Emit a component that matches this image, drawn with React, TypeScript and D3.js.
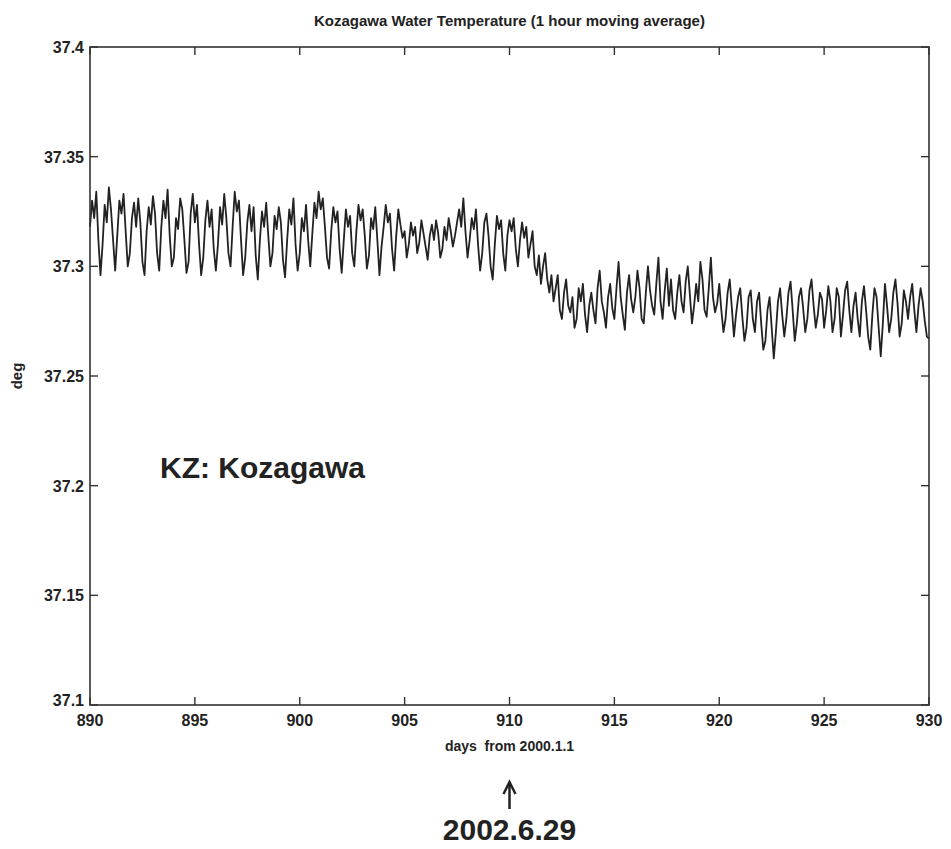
import React, { useEffect, useRef } from "react";
import * as d3 from "d3";

// days from 2000.1.1, sampled every 0.1 day (values in deg)
const startDay = 890;
const stepDay = 0.1;

const temp890to900 = [
	37.318, 37.33, 37.322, 37.334, 37.312, 37.296, 37.31, 37.328, 37.32, 37.336,
	37.326, 37.312, 37.298, 37.314, 37.33, 37.324, 37.333, 37.316, 37.3, 37.306,
	37.322, 37.329, 37.318, 37.331, 37.32, 37.302, 37.296, 37.316, 37.327, 37.319,
	37.332, 37.324, 37.306, 37.298, 37.318, 37.33, 37.322, 37.335, 37.314, 37.3,
	37.304, 37.322, 37.317, 37.331, 37.326, 37.312, 37.297, 37.302, 37.324, 37.333,
	37.32, 37.328, 37.31, 37.296, 37.304, 37.321, 37.33, 37.318, 37.326, 37.308,
	37.298, 37.31, 37.327, 37.319, 37.333, 37.322, 37.306, 37.3, 37.318, 37.334,
	37.325, 37.33, 37.312, 37.296, 37.304, 37.32, 37.328, 37.316, 37.327, 37.305,
	37.294, 37.312, 37.325, 37.318, 37.329, 37.314, 37.3, 37.306, 37.323, 37.317,
	37.327, 37.32, 37.303, 37.295, 37.312, 37.326, 37.319, 37.331, 37.31, 37.298,
];

const temp900to910 = [
	37.306, 37.322, 37.316, 37.328, 37.312, 37.3, 37.315, 37.329, 37.322, 37.334,
	37.326, 37.331, 37.318, 37.304, 37.299, 37.316, 37.327, 37.32, 37.325, 37.308,
	37.297, 37.312, 37.326, 37.318, 37.323, 37.306, 37.3, 37.316, 37.328, 37.321,
	37.326, 37.314, 37.299, 37.305, 37.322, 37.317, 37.327, 37.312, 37.296, 37.309,
	37.318, 37.328, 37.32, 37.324, 37.308, 37.298, 37.314, 37.326, 37.319, 37.313,
	37.316, 37.304, 37.31, 37.32, 37.314, 37.318, 37.306, 37.311, 37.321, 37.315,
	37.309, 37.303, 37.314, 37.319, 37.312, 37.321, 37.315, 37.304, 37.308, 37.318,
	37.312, 37.322, 37.316, 37.309, 37.314, 37.32, 37.326, 37.318, 37.331, 37.316,
	37.304, 37.312, 37.322, 37.317, 37.326, 37.31, 37.298, 37.306, 37.32, 37.324,
	37.314, 37.3, 37.294, 37.31, 37.323, 37.317, 37.321, 37.306, 37.298, 37.314,
];

const temp910to920 = [
	37.321, 37.316, 37.322, 37.308, 37.3, 37.312, 37.32, 37.313, 37.318, 37.304,
	37.31, 37.316, 37.3, 37.296, 37.305, 37.292, 37.3, 37.306, 37.294, 37.288,
	37.296, 37.284, 37.29, 37.296, 37.28, 37.276, 37.288, 37.294, 37.282, 37.279,
	37.286, 37.272, 37.276, 37.29, 37.284, 37.292, 37.278, 37.27, 37.282, 37.288,
	37.28, 37.274, 37.29, 37.298, 37.284, 37.279, 37.272, 37.286, 37.292, 37.281,
	37.276, 37.29, 37.302, 37.286, 37.278, 37.271, 37.288, 37.296, 37.285, 37.279,
	37.286, 37.298, 37.29, 37.276, 37.274, 37.288, 37.3, 37.289, 37.282, 37.278,
	37.292, 37.304, 37.284, 37.276, 37.289, 37.299, 37.282, 37.294, 37.28, 37.276,
	37.288, 37.296, 37.284, 37.279, 37.293, 37.3, 37.287, 37.274, 37.282, 37.292,
	37.284, 37.302, 37.294, 37.28, 37.277, 37.29, 37.304, 37.286, 37.279, 37.283,
];

const temp920to930 = [
	37.292, 37.28, 37.27, 37.276, 37.288, 37.294, 37.281, 37.268, 37.278, 37.286,
	37.29, 37.277, 37.266, 37.272, 37.286, 37.289, 37.276, 37.27, 37.284, 37.288,
	37.274, 37.262, 37.266, 37.28, 37.286, 37.272, 37.258, 37.27, 37.284, 37.29,
	37.278, 37.268, 37.276, 37.288, 37.293, 37.28, 37.266, 37.274, 37.286, 37.29,
	37.281, 37.27, 37.276, 37.289, 37.294, 37.282, 37.272, 37.278, 37.288, 37.285,
	37.272, 37.28, 37.291, 37.284, 37.27, 37.276, 37.29, 37.286, 37.268, 37.278,
	37.289, 37.293, 37.28, 37.27, 37.282, 37.288, 37.276, 37.268, 37.284, 37.291,
	37.28, 37.268, 37.262, 37.278, 37.29, 37.286, 37.272, 37.259, 37.274, 37.292,
	37.282, 37.27, 37.276, 37.288, 37.294, 37.283, 37.268, 37.274, 37.289, 37.284,
	37.276, 37.286, 37.292, 37.28, 37.27, 37.282, 37.29, 37.284, 37.275, 37.268,
	37.267,
];

const xTicks = [890, 895, 900, 905, 910, 915, 920, 925, 930];
const yTicks = [37.1, 37.15, 37.2, 37.25, 37.3, 37.35, 37.4];
const yTickLabels = ["37.1", "37.15", "37.2", "37.25", "37.3", "37.35", "37.4"];

const title = "Kozagawa Water Temperature (1 hour moving average)";
const xLabel = "days  from 2000.1.1";
const yLabel = "deg";
const stationLabel = "KZ: Kozagawa";
const eventDay = 910;
const eventLabel = "2002.6.29";

const App = () => {
	const ref = useRef<HTMLDivElement>(null);

	useEffect(() => {
		const width = 951;
		const height = 849;
		const margin = { top: 47, right: 22, bottom: 144, left: 90 };
		const font = "'Liberation Sans', Arial, sans-serif";

		const values = [...temp890to900, ...temp900to910, ...temp910to920, ...temp920to930];
		const series: [number, number][] = values.map((v, i) => [startDay + i * stepDay, v]);

		const x = d3
			.scaleLinear()
			.domain([890, 930])
			.range([margin.left, width - margin.right]);
		const y = d3
			.scaleLinear()
			.domain([37.1, 37.4])
			.range([height - margin.bottom, margin.top]);

		d3.select(ref.current).selectAll("*").remove();
		const svg = d3
			.select(ref.current)
			.append("svg")
			.attr("width", width)
			.attr("height", height)
			.style("display", "block")
			.style("background", "#fff");

		const x0 = x.range()[0];
		const x1 = x.range()[1];
		const y0 = y.range()[0];
		const y1 = y.range()[1];
		const tick = 8;

		// data line
		const line = d3
			.line<[number, number]>()
			.x((d) => x(d[0]))
			.y((d) => y(d[1]));
		svg
			.append("path")
			.datum(series)
			.attr("fill", "none")
			.attr("stroke", "#222")
			.attr("stroke-width", 1.8)
			.attr("stroke-linejoin", "round")
			.attr("d", line);

		// box
		svg
			.append("rect")
			.attr("x", x0)
			.attr("y", y1)
			.attr("width", x1 - x0)
			.attr("height", y0 - y1)
			.attr("fill", "none")
			.attr("stroke", "#333")
			.attr("stroke-width", 1.6);

		const ticks = svg.append("g").attr("stroke", "#333").attr("stroke-width", 1.4);
		xTicks.forEach((t) => {
			ticks.append("line").attr("x1", x(t)).attr("x2", x(t)).attr("y1", y0).attr("y2", y0 - tick);
			ticks.append("line").attr("x1", x(t)).attr("x2", x(t)).attr("y1", y1).attr("y2", y1 + tick);
		});
		yTicks.forEach((t) => {
			ticks.append("line").attr("x1", x0).attr("x2", x0 + tick).attr("y1", y(t)).attr("y2", y(t));
			ticks.append("line").attr("x1", x1).attr("x2", x1 - tick).attr("y1", y(t)).attr("y2", y(t));
		});

		const txt = svg.append("g").attr("font-family", font).attr("font-weight", "bold").attr("fill", "#222");

		xTicks.forEach((t) => {
			txt
				.append("text")
				.attr("x", x(t))
				.attr("y", y0 + 21)
				.attr("text-anchor", "middle")
				.attr("font-size", 16)
				.text(t);
		});
		yTicks.forEach((t, i) => {
			txt
				.append("text")
				.attr("x", x0 - 6)
				.attr("y", y(t) + (i === 0 ? 1 : 6))
				.attr("text-anchor", "end")
				.attr("font-size", 16)
				.text(yTickLabels[i]);
		});

		txt
			.append("text")
			.attr("x", (x0 + x1) / 2)
			.attr("y", 26)
			.attr("text-anchor", "middle")
			.attr("font-size", 15)
			.text(title);

		txt
			.append("text")
			.attr("x", (x0 + x1) / 2)
			.attr("y", y0 + 46)
			.attr("text-anchor", "middle")
			.attr("font-size", 14)
			.attr("xml:space", "preserve")
			.style("white-space", "pre")
			.text(xLabel);

		txt
			.append("text")
			.attr("transform", `translate(22,${(y0 + y1) / 2}) rotate(-90)`)
			.attr("text-anchor", "middle")
			.attr("font-size", 15)
			.text(yLabel);

		txt
			.append("text")
			.attr("x", 160)
			.attr("y", y(37.2) - 8)
			.attr("font-size", 30)
			.text(stationLabel);

		// event arrow
		const ax = x(eventDay);
		svg
			.append("line")
			.attr("x1", ax)
			.attr("x2", ax)
			.attr("y1", y0 + 104)
			.attr("y2", y0 + 78)
			.attr("stroke", "#222")
			.attr("stroke-width", 2.5);
		svg
			.append("path")
			.attr("d", `M${ax - 6},${y0 + 89} L${ax},${y0 + 77} L${ax + 6},${y0 + 89}`)
			.attr("fill", "none")
			.attr("stroke", "#222")
			.attr("stroke-width", 2.5);
		txt
			.append("text")
			.attr("x", ax)
			.attr("y", y0 + 135)
			.attr("text-anchor", "middle")
			.attr("font-size", 30)
			.text(eventLabel);
	}, []);

	return <div ref={ref} style={{ position: "absolute", left: 0, top: 0 }}></div>;
};

export default App;
